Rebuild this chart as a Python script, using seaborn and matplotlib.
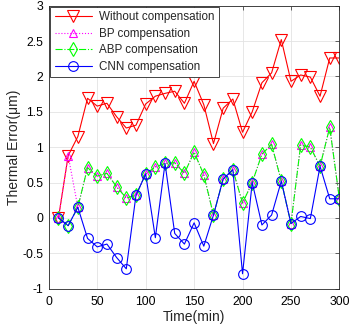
import numpy as np
import pandas as pd
import matplotlib
matplotlib.use('Agg')
import matplotlib.pyplot as plt
import seaborn as sns

sns.set_style('white')
plt.rcParams['font.family'] = ['Liberation Sans', 'DejaVu Sans']
plt.rcParams['axes.unicode_minus'] = False

time = [10, 20, 30, 40, 50, 60, 70, 80, 90, 100, 110, 120, 130, 140, 150,
        160, 170, 180, 190, 200, 210, 220, 230, 240, 250, 260, 270, 280, 290, 300]
without_comp = [0.0, 0.88, 1.15, 1.69, 1.58, 1.62, 1.43, 1.27, 1.31, 1.61,
                1.72, 1.76, 1.79, 1.62, 1.93, 1.60, 1.05, 1.55, 1.68, 1.21,
                1.50, 1.91, 2.05, 2.52, 1.93, 2.02, 1.99, 1.72, 2.26, 2.26]
abp_comp = [0.0, -0.11, 0.15, 0.71, 0.59, 0.63, 0.44, 0.28, 0.32, 0.62,
            0.72, 0.77, 0.78, 0.63, 0.93, 0.61, 0.04, 0.55, 0.68, 0.21,
            0.50, 0.90, 1.04, 0.52, -0.08, 1.03, 1.00, 0.73, 1.28, 0.27]
bp_comp = [0.0, 0.88, 0.15, 0.71, 0.59, 0.63, 0.44, 0.28, 0.32, 0.62,
           0.72, 0.77, 0.78, 0.63, 0.93, 0.61, 0.04, 0.55, 0.68, 0.21,
           0.50, 0.90, 1.04, 0.52, -0.08, 1.03, 1.00, 0.73, 1.28, 0.27]
cnn_comp = [0.0, -0.11, 0.15, -0.29, -0.41, -0.37, -0.56, -0.72, 0.32, 0.62,
            -0.28, 0.77, -0.22, -0.37, -0.07, -0.40, 0.04, 0.55, 0.68, -0.79,
            0.50, -0.10, 0.04, 0.52, -0.08, 0.02, -0.01, 0.73, 0.27, 0.27]

y_ticks = [-1, -0.5, 0, 0.5, 1, 1.5, 2, 2.5, 3]
y_labels = ['-1', '-0.5', '0', '0.5', '1', '1.5', '2', '2.5', '3']
x_ticks = [0, 50, 100, 150, 200, 250, 300]

fig = plt.figure(figsize=(3.51, 3.31), dpi=100)
ax = fig.add_axes([0.139, 0.128, 0.828, 0.855])

common = dict(ax=ax, markerfacecolor='none', markeredgewidth=0.8, linewidth=0.8)
sns.lineplot(x=time, y=without_comp, color='#FF0000', marker='v', markersize=8,
             markeredgecolor='#FF0000', linestyle='-', label='Without compensation', **common)
sns.lineplot(x=time, y=bp_comp, color='#FF00FF', marker='^', markersize=6,
             markeredgecolor='#FF00FF', linestyle=':', label='BP compensation', **common)
sns.lineplot(x=time, y=abp_comp, color='#00FF00', marker='d', markersize=7,
             markeredgecolor='#00FF00', linestyle='-.', label='ABP compensation', **common)
sns.lineplot(x=time, y=cnn_comp, color='#0000FF', marker='o', markersize=7,
             markeredgecolor='#0000FF', linestyle='-', label='CNN compensation', **common)

ax.set_xlim(0, 300)
ax.set_ylim(-1, 3)
ax.set_xticks(x_ticks)
ax.set_xticklabels([str(v) for v in x_ticks])
ax.set_yticks(y_ticks)
ax.set_yticklabels(y_labels)
ax.grid(True, color='#E3E3E3', linewidth=0.6)
ax.set_axisbelow(True)
ax.tick_params(direction='in', length=3, width=0.5, labelsize=8.8, colors='#262626',
               top=True, right=True, labelcolor='black')
ax.tick_params(axis='x', pad=5)
ax.tick_params(axis='y', pad=4)
for s in ax.spines.values():
    s.set_color('#262626')
    s.set_linewidth(0.6)

ax.set_xlabel('Time(min)', fontsize=10, labelpad=1.5)
ax.set_ylabel('Thermal Error(μm)', fontsize=10, labelpad=1)

leg = ax.legend(loc='upper left', fontsize=8.4, frameon=True, fancybox=False,
                borderaxespad=0.1, handlelength=3.2, labelspacing=0.38,
                borderpad=0.4, handletextpad=0.6)
leg.get_frame().set_edgecolor('#262626')
leg.get_frame().set_linewidth(0.6)
leg.get_frame().set_alpha(1)

fig.savefig('out.png', dpi=100)
